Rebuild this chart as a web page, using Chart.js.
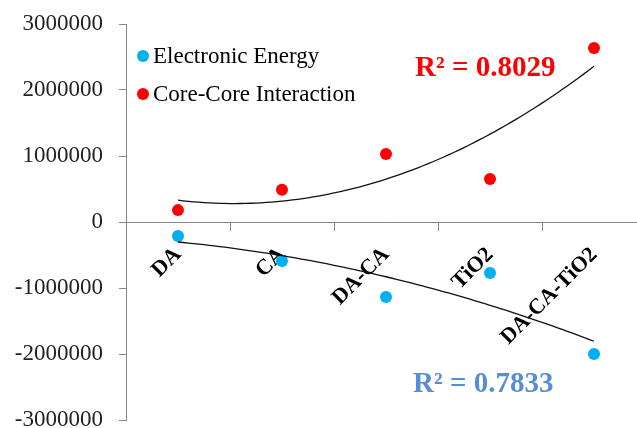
<!DOCTYPE html>
<html>
<head>
<meta charset="utf-8">
<script src="https://cdn.jsdelivr.net/npm/chart.js@4.4.1/dist/chart.umd.min.js"></script>
<style>
  html, body { margin: 0; padding: 0; background: #fff; overflow: hidden; }
  #wrap { width: 660px; height: 428px; position: relative; }
</style>
</head>
<body>
<div id="wrap"><canvas id="chart"></canvas></div>
<script>
const categories = ['DA', 'CA', 'DA-CA', 'TiO2', 'DA-CA-TiO2'];
const electronicEnergy = [-212000, -590000, -1136000, -773000, -2000000];
const coreCoreInteraction = [180000, 490000, 1030000, 650000, 2636000];
const yTicks = [-3000000, -2000000, -1000000, 0, 1000000, 2000000, 3000000];
const r2Labels = ['R\u00b2 = 0.7833', 'R\u00b2 = 0.8029'];

const serif = '"Liberation Serif", "Times New Roman", serif';
const axisGray = '#898989';

// least squares fit y = a + b*x + c*x^2, x = 1..n (like an Excel poly trendline)
function polyFit(values) {
    let s = [0, 0, 0, 0, 0], t = [0, 0, 0];
    values.forEach((y, i) => {
        const x = i + 1;
        for (let k = 0; k < 5; k++) s[k] += Math.pow(x, k);
        for (let k = 0; k < 3; k++) t[k] += y * Math.pow(x, k);
    });
    const m = [[s[0], s[1], s[2], t[0]], [s[1], s[2], s[3], t[1]], [s[2], s[3], s[4], t[2]]];
    for (let i = 0; i < 3; i++) {
        for (let j = i + 1; j < 3; j++) {
            const f = m[j][i] / m[i][i];
            for (let k = i; k < 4; k++) m[j][k] -= f * m[i][k];
        }
    }
    const c = [0, 0, 0];
    for (let i = 2; i >= 0; i--) {
        let v = m[i][3];
        for (let k = i + 1; k < 3; k++) v -= m[i][k] * c[k];
        c[i] = v / m[i][i];
    }
    return c;
}

const trendlinePlugin = {
    id: 'trendlines',
    afterDatasetsDraw(chart) {
        const { ctx, scales } = chart;
        ctx.save();
        ctx.strokeStyle = '#111';
        ctx.lineWidth = 1.3;
        chart.data.datasets.forEach(ds => {
            const c = polyFit(ds.data);
            ctx.beginPath();
            const n = ds.data.length;
            for (let s = 0; s <= 80; s++) {
                const idx = (n - 1) * s / 80;
                const x = idx + 1;
                const y = c[0] + c[1] * x + c[2] * x * x;
                const px = scales.x.getPixelForValue(idx);
                const py = scales.y.getPixelForValue(y);
                if (s === 0) ctx.moveTo(px, py); else ctx.lineTo(px, py);
            }
            ctx.stroke();
        });
        ctx.restore();
    }
};

const labelsPlugin = {
    id: 'extraLabels',
    afterDraw(chart) {
        const { ctx, chartArea } = chart;
        ctx.save();
        // legend inside the plot
        ctx.font = '23px ' + serif;
        ctx.textBaseline = 'middle';
        ctx.textAlign = 'left';
        const rows = [chartArea.top + 32, chartArea.top + 70];
        chart.data.datasets.forEach((ds, i) => {
            ctx.fillStyle = ds.pointBackgroundColor;
            ctx.beginPath();
            ctx.arc(chartArea.left + 17, rows[i], 6, 0, Math.PI * 2);
            ctx.fill();
            ctx.fillStyle = '#000';
            ctx.fillText(ds.label, chartArea.left + 27, rows[i] + 1);
        });
        // R² labels
        ctx.font = 'bold 29px ' + serif;
        ctx.textBaseline = 'alphabetic';
        ctx.fillStyle = '#ff0000';
        ctx.fillText(r2Labels[1], chartArea.left + 289, chartArea.top + 52);
        ctx.fillStyle = '#558ed5';
        ctx.fillText(r2Labels[0], chartArea.left + 287, chartArea.top + 368);
        ctx.restore();
    }
};

new Chart(document.getElementById('chart'), {
    type: 'line',
    data: {
        labels: categories,
        datasets: [
            {
                label: 'Electronic Energy',
                data: electronicEnergy,
                showLine: false,
                pointRadius: 6,
                pointHoverRadius: 6,
                pointBorderWidth: 0,
                pointBackgroundColor: '#00b0f0',
                pointBorderColor: '#00b0f0'
            },
            {
                label: 'Core-Core Interaction',
                data: coreCoreInteraction,
                showLine: false,
                pointRadius: 6,
                pointHoverRadius: 6,
                pointBorderWidth: 0,
                pointBackgroundColor: '#ff0000',
                pointBorderColor: '#ff0000'
            }
        ]
    },
    options: {
        responsive: true,
        maintainAspectRatio: false,
        animation: false,
        layout: { padding: { left: 15, top: 24, right: 14, bottom: 8 } },
        plugins: {
            legend: { display: false },
            tooltip: { enabled: false }
        },
        scales: {
            x: {
                type: 'category',
                position: { y: 0 },
                offset: true,
                afterFit(scale) {
                    scale.paddingLeft = 0;
                    scale.paddingRight = 0;
                    scale.paddingTop = 0;
                    scale.paddingBottom = 0;
                },
                grid: {
                    offset: true,
                    drawOnChartArea: false,
                    drawTicks: true,
                    tickLength: 8,
                    color: axisGray
                },
                border: { color: axisGray, width: 1 },
                ticks: {
                    minRotation: 45,
                    maxRotation: 45,
                    padding: 12,
                    color: '#000',
                    font: { family: serif, size: 22, weight: 'bold' }
                }
            },
            y: {
                min: yTicks[0],
                max: yTicks[yTicks.length - 1],
                afterBuildTicks(scale) {
                    scale.ticks = yTicks.map(v => ({ value: v }));
                },
                afterFit(scale) {
                    scale.width = 111;
                    scale.paddingTop = 0;
                    scale.paddingBottom = 0;
                },
                grid: {
                    drawOnChartArea: false,
                    tickLength: 7,
                    color: axisGray
                },
                border: { color: axisGray, width: 1 },
                ticks: {
                    padding: 16,
                    color: '#222',
                    font: { family: serif, size: 23 },
                    callback: v => String(v)
                }
            }
        }
    },
    plugins: [trendlinePlugin, labelsPlugin]
});
</script>
</body>
</html>
